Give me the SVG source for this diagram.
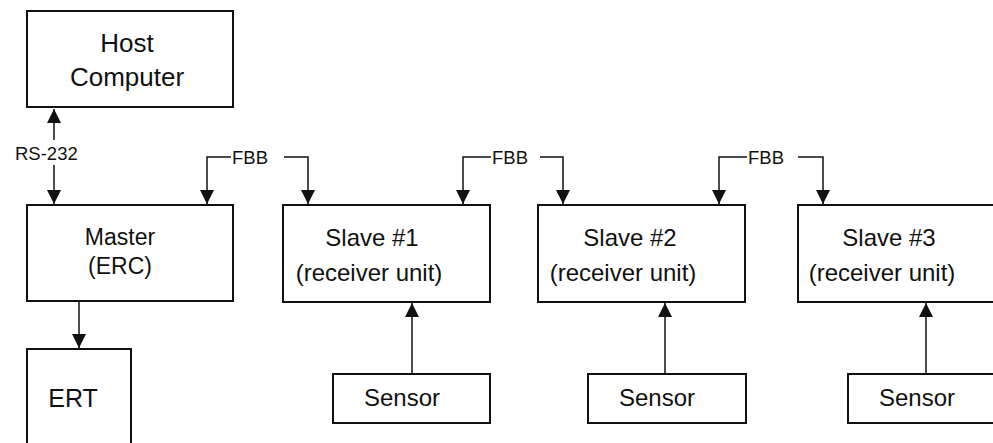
<svg xmlns="http://www.w3.org/2000/svg" width="993" height="443" viewBox="0 0 993 443">
<defs>
<marker id="ah" viewBox="0 0 14 14" refX="14" refY="7" markerWidth="14" markerHeight="14" markerUnits="userSpaceOnUse" orient="auto">
<path d="M0,0 L14,7 L0,14 Z" fill="#111"/>
</marker>
<style>
.box{fill:#fff;stroke:#111;stroke-width:2}
.t{font-family:"Liberation Sans",Arial,sans-serif;fill:#111;text-anchor:middle}
.lbl{font-family:"Liberation Sans",Arial,sans-serif;fill:#111;font-size:18.5px}
.c{fill:none;stroke:#111;stroke-width:1.5}
</style>
</defs>
<rect width="993" height="443" fill="#fff"/>
<g id="host">
<rect class="box" x="27" y="11" width="206" height="96"/>
<text class="t" x="127" y="52" font-size="26">Host</text>
<text class="t" x="127" y="86" font-size="26">Computer</text>
</g>
<g id="master">
<rect class="box" x="27" y="205" width="206" height="96"/>
<text class="t" x="120" y="245" font-size="23">Master</text>
<text class="t" x="120" y="274" font-size="23">(ERC)</text>
</g>
<g id="ert">
<rect class="box" x="27" y="349" width="104" height="110"/>
<text class="t" x="73" y="407" font-size="25">ERT</text>
</g>
<g id="slave1">
<rect class="box" x="283" y="205" width="207" height="97"/>
<text class="t" x="372" y="246" font-size="24">Slave #1</text>
<text class="t" x="369" y="281" font-size="24">(receiver unit)</text>
</g>
<g id="slave2">
<rect class="box" x="538" y="205" width="207" height="97"/>
<text class="t" x="630" y="246" font-size="24">Slave #2</text>
<text class="t" x="623" y="281" font-size="24">(receiver unit)</text>
</g>
<g id="slave3">
<rect class="box" x="798" y="205" width="210" height="97"/>
<text class="t" x="889" y="246" font-size="24">Slave #3</text>
<text class="t" x="882" y="281" font-size="24">(receiver unit)</text>
</g>
<g id="sensor1">
<rect class="box" x="333" y="374" width="157" height="49"/>
<text class="t" x="402" y="406" font-size="24">Sensor</text>
</g>
<g id="sensor2">
<rect class="box" x="588" y="374" width="158" height="49"/>
<text class="t" x="657" y="406" font-size="24">Sensor</text>
</g>
<g id="sensor3">
<rect class="box" x="848" y="374" width="160" height="49"/>
<text class="t" x="917" y="406" font-size="24">Sensor</text>
</g>
<g id="connectors">
<path class="c" d="M54,140 L54,109" marker-end="url(#ah)"/>
<text class="lbl" x="15" y="160">RS-232</text>
<path class="c" d="M54,165 L54,204" marker-end="url(#ah)"/>
<path class="c" d="M79,301 L79,348" marker-end="url(#ah)"/>
<path class="c" d="M412,374 L412,303" marker-end="url(#ah)"/>
<path class="c" d="M665,374 L665,303" marker-end="url(#ah)"/>
<path class="c" d="M926,374 L926,303" marker-end="url(#ah)"/>
<path class="c" d="M231,157 L207,157 L207,204" marker-end="url(#ah)"/>
<text class="lbl" x="232" y="164">FBB</text>
<path class="c" d="M284,157 L308,157 L308,204" marker-end="url(#ah)"/>
<path class="c" d="M491,157 L463,157 L463,204" marker-end="url(#ah)"/>
<text class="lbl" x="492" y="164">FBB</text>
<path class="c" d="M540,157 L563,157 L563,204" marker-end="url(#ah)"/>
<path class="c" d="M747,157 L719,157 L719,204" marker-end="url(#ah)"/>
<text class="lbl" x="748" y="164">FBB</text>
<path class="c" d="M798,157 L823,157 L823,204" marker-end="url(#ah)"/>
</g>
</svg>
